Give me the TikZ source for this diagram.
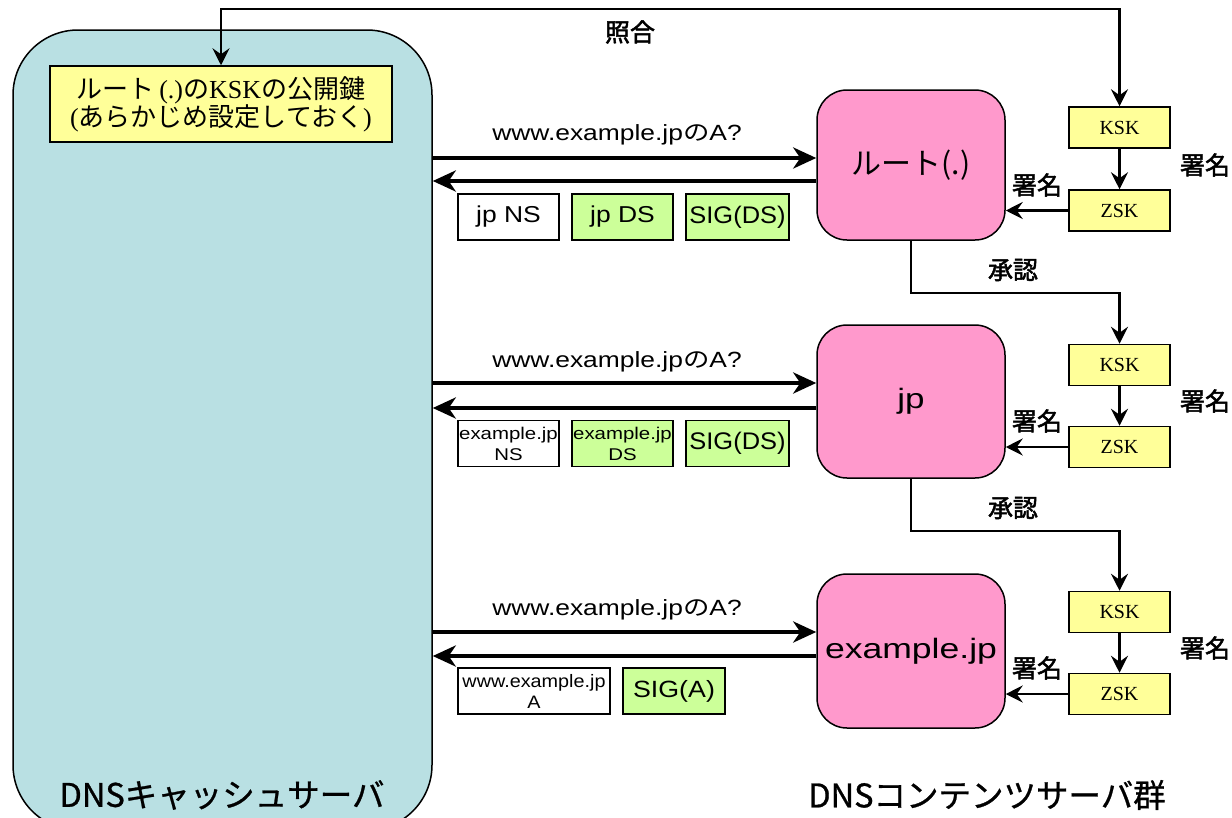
\documentclass[tikz,border=0pt]{standalone}
\usepackage{fontspec}
\usepackage{graphicx}
\setmainfont{Liberation Sans}
\newfontfamily\cjk{Noto Sans CJK JP}
\newfontfamily\cjkb{Noto Sans CJK JP}[FakeBold=2]
\newfontfamily\cjkm{Noto Sans CJK JP}[FakeBold=0.8]
\newfontfamily\serif{Liberation Serif}
\usetikzlibrary{arrows.meta}
\definecolor{cacheblue}{HTML}{B9E0E3}
\definecolor{keyyellow}{HTML}{FFFF99}
\definecolor{srvpink}{HTML}{FF99CC}
\definecolor{sigreen}{HTML}{CCFF99}
\newcommand{\fsz}[1]{\fontsize{#1}{#1}\selectfont}
\newcommand{\hx}[2]{\scalebox{#1}[1]{#2}}
\begin{document}
\begin{tikzpicture}[x=1pt,y=-1pt,
  cachebox/.style={draw, line width=1.5pt, fill=cacheblue, rounded corners=65pt,
    minimum width=419pt, minimum height=800pt, inner sep=0pt},
  keyinfo/.style={draw, line width=1.5pt, fill=keyyellow, minimum width=342pt,
    minimum height=76pt, align=center, inner sep=0pt, font=\fontsize{26}{28}\selectfont},
  pinkbox/.style={draw, line width=1.5pt, fill=srvpink, rounded corners=30pt,
    minimum width=188pt, inner sep=0pt},
  kbox/.style={draw, line width=1.5pt, fill=keyyellow, minimum width=101pt,
    minimum height=41pt, inner sep=0pt, font=\serif\fsz{20}},
  rec/.style={draw, line width=1.3pt, fill=white, minimum height=46pt, inner sep=0pt, align=center},
  grec/.style={rec, fill=sigreen},
  lbl/.style={font=\cjkb\fsz{25}, inner sep=0pt},
  qlbl/.style={font=\fsz{22}, inner sep=0pt},
  conn/.style={line width=2.2pt, -{Stealth[length=17pt,width=17pt,inset=6pt]}},
  biconn/.style={line width=2.2pt, {Stealth[length=17pt,width=17pt,inset=6pt]}-{Stealth[length=17pt,width=17pt,inset=6pt]}},
  msg/.style={line width=4.5pt, -{Stealth[length=23pt,width=21pt,inset=7pt]}}
]
\useasboundingbox (0,0) rectangle (1232,817);
\clip (0,0) rectangle (1232,817);

% cache server
\node[cachebox] (cache) at (222.5,430) {};
\node[keyinfo] (key) at (221,104)
  {{\cjk ルート}\,{\serif (.)}{\cjk の}{\serif KSK}{\cjk の公開鍵}\\
   {\serif (}{\cjk あらかじめ設定しておく}{\serif )}};
\node[font=\cjkm\fsz{32.5}, inner sep=0pt] (cachelbl) at (222,795) {DNSキャッシュサーバ};

% content servers
\node[pinkbox, minimum height=150pt] (root) at (911,165) {\cjk\fsz{30}ルート(.)};
\node[pinkbox, minimum height=153pt] (jp) at (911,401.5) {\fsz{28}\hx{1.25}{jp}};
\node[pinkbox, minimum height=154pt] (ex) at (911,651) {\fsz{28}\hx{1.27}{example.jp}};
\node[font=\cjkm\fsz{32.5}, inner sep=0pt] (srvlbl) at (987,795) {DNSコンテンツサーバ群};

% keys
\node[kbox] (k1) at (1119.5,127.5) {KSK};
\node[kbox] (z1) at (1119.5,210.5) {ZSK};
\node[kbox] (k2) at (1119.5,365) {KSK};
\node[kbox] (z2) at (1119.5,447) {ZSK};
\node[kbox] (k3) at (1119.5,612) {KSK};
\node[kbox] (z3) at (1119.5,694) {ZSK};

\draw[conn] (k1) -- (z1);
\draw[conn] (k2) -- (z2);
\draw[conn] (k3) -- (z3);
\draw[conn] (z1) -- (root.east |- z1);
\draw[conn] (z2) -- (jp.east |- z2);
\draw[conn] (z3) -- (ex.east |- z3);

\node[lbl] (s1r) at (1205,165) {署名};
\node[lbl] (s2r) at (1205,401) {署名};
\node[lbl] (s3r) at (1205,648) {署名};
\node[lbl] (s1l) at (1037,185) {署名};
\node[lbl] (s2l) at (1037,421) {署名};
\node[lbl] (s3l) at (1037,668) {署名};

% approval
\draw[conn] (root.south) -- ++(0,52) -| (k2.north);
\draw[conn] (jp.south) -- ++(0,52) -| (k3.north);
\node[lbl] (a1) at (1013,270) {承認};
\node[lbl] (a2) at (1013,508) {承認};

% verification
\coordinate (topy) at (0,9);
\draw[biconn] (key.north) |- (k1.north |- topy) -- (k1.north);
\node[lbl] (verify) at (630,32) {照合};

% messages
\coordinate (q1) at (0,158);
\coordinate (r1) at (0,181);
\coordinate (q2) at (0,383);
\coordinate (r2) at (0,408);
\coordinate (q3) at (0,632);
\coordinate (r3) at (0,656);
\draw[msg] (cache.east |- q1) -- (root.west |- q1);
\draw[msg] (root.west |- r1) -- (cache.east |- r1);
\draw[msg] (cache.east |- q2) -- (jp.west |- q2);
\draw[msg] (jp.west |- r2) -- (cache.east |- r2);
\draw[msg] (cache.east |- q3) -- (ex.west |- q3);
\draw[msg] (ex.west |- r3) -- (cache.east |- r3);

\node[qlbl] (ql1) at (617,135) {\hx{1.2}{www.example.jp{\cjk の}A?}};
\node[qlbl] (ql2) at (617,362) {\hx{1.2}{www.example.jp{\cjk の}A?}};
\node[qlbl] (ql3) at (617,610) {\hx{1.2}{www.example.jp{\cjk の}A?}};

% answer records
\node[rec, minimum width=101pt] (b11) at (508.5,217) {\fsz{23}\hx{1.15}{jp NS}};
\node[grec, minimum width=101pt] (b12) at (622.5,217) {\fsz{23}\hx{1.15}{jp DS}};
\node[grec, minimum width=103pt] (b13) at (737.5,217) {\fsz{24}\hx{1.06}{SIG(DS)}};

\node[rec, minimum width=101pt, font=\fontsize{17}{21}\selectfont] (b21) at (508.5,443.5) {\hx{1.2}{example.jp}\\\hx{1.2}{NS}};
\node[grec, minimum width=101pt, font=\fontsize{17}{21}\selectfont] (b22) at (622.5,443.5) {\hx{1.2}{example.jp}\\\hx{1.2}{DS}};
\node[grec, minimum width=103pt] (b23) at (737.5,443.5) {\fsz{24}\hx{1.06}{SIG(DS)}};

\node[rec, minimum width=152pt, font=\fontsize{18}{21}\selectfont] (b31) at (534,691) {\hx{1.1}{www.example.jp}\\\hx{1.1}{A}};
\node[grec, minimum width=102pt] (b32) at (674,691) {\fsz{23.5}\hx{1.14}{SIG(A)}};
\end{tikzpicture}
\end{document}
